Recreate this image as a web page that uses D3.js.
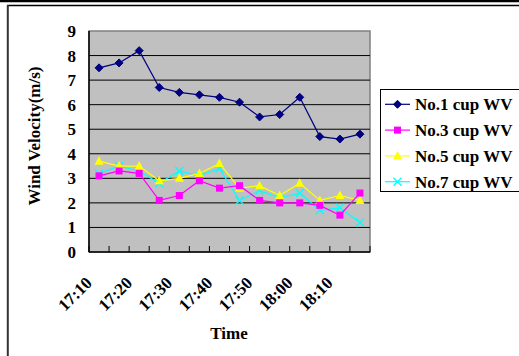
<!DOCTYPE html>
<html>
<head>
<meta charset="utf-8">
<script src="https://cdn.jsdelivr.net/npm/d3@7"></script>
<style>
  html, body { margin: 0; padding: 0; background: #fff; }
  svg { display: block; }
  text { font-family: "Liberation Serif", "Times New Roman", serif; font-weight: bold; fill: #000; }
</style>
</head>
<body>
<svg id="chart" width="519" height="356"></svg>
<script>
// ---- data ----
const categories = ["17:10","17:15","17:20","17:25","17:30","17:35","17:40","17:45","17:50","17:55","18:00","18:05","18:10","18:15"];
const tickLabels = ["17:10","17:20","17:30","17:40","17:50","18:00","18:10"];
const cup1 = [7.5,7.7,8.2,6.7,6.5,6.4,6.3,6.1,5.5,5.6,6.3,4.7,4.6,4.8];
const cup3 = [3.1,3.3,3.2,2.1,2.3,2.9,2.6,2.7,2.1,2.0,2.0,1.9,1.5,2.4];
const cup5 = [3.7,3.5,3.5,2.9,3.0,3.2,3.6,2.6,2.7,2.3,2.8,2.1,2.3,2.1];
const cup7 = [3.2,3.5,3.3,2.8,3.3,3.1,3.4,2.1,2.5,2.2,2.4,1.7,1.8,1.2];
const seriesNames = ["No.1 cup WV","No.3 cup WV","No.5 cup WV","No.7 cup WV"];
const yTicks = [0,1,2,3,4,5,6,7,8,9];

const series = [
  {name: seriesNames[0], values: cup1, color: "#000080", marker: "diamond"},
  {name: seriesNames[1], values: cup3, color: "#FF00FF", marker: "square"},
  {name: seriesNames[2], values: cup5, color: "#FFFF00", marker: "triangle"},
  {name: seriesNames[3], values: cup7, color: "#00FFFF", marker: "cross"}
];

const svg = d3.select("#chart");

// outer frame
svg.append("line").attr("x1",0).attr("x2",519).attr("y1",1).attr("y2",1).attr("stroke","#000").attr("stroke-width",2.5);
svg.append("line").attr("x1",7).attr("x2",519).attr("y1",5.5).attr("y2",5.5).attr("stroke","#000").attr("stroke-width",1.3);
svg.append("line").attr("x1",7.8).attr("x2",7.8).attr("y1",5).attr("y2",356).attr("stroke","#333").attr("stroke-width",2);

const L = 89, R = 370, T = 31, B = 252;
const x = d3.scaleBand().domain(categories).range([L, R]).padding(0);
const y = d3.scaleLinear().domain([0, 9]).range([B, T]);
const cx = c => x(c) + x.bandwidth() / 2;

// plot area
svg.append("rect").attr("x", L).attr("y", T).attr("width", R - L).attr("height", B - T)
  .attr("fill", "#C0C0C0").attr("stroke", "#808080").attr("stroke-width", 1.5);

// gridlines
svg.append("g").selectAll("line").data(yTicks.filter(v => v > 0 && v < 9)).join("line")
  .attr("x1", L).attr("x2", R).attr("y1", d => y(d)).attr("y2", d => y(d))
  .attr("stroke", "#000").attr("stroke-width", 1);

// axes lines
svg.append("line").attr("x1", L).attr("x2", L).attr("y1", T).attr("y2", B).attr("stroke", "#000").attr("stroke-width", 1.5);
svg.append("line").attr("x1", L).attr("x2", R).attr("y1", B).attr("y2", B).attr("stroke", "#000").attr("stroke-width", 1.5);

// x ticks (inside)
const bounds = categories.map(c => x(c)).concat([R]);
svg.append("g").selectAll("line").data(bounds).join("line")
  .attr("x1", d => d).attr("x2", d => d).attr("y1", B).attr("y2", B - 6)
  .attr("stroke", "#000").attr("stroke-width", 1);

// y tick labels
svg.append("g").selectAll("text").data(yTicks).join("text")
  .attr("x", 76).attr("y", d => y(d)).attr("dy", "0.35em")
  .attr("text-anchor", "end").style("font-size", "17px").text(d => d);

// x tick labels
svg.append("g").selectAll("text").data(tickLabels).join("text")
  .attr("transform", d => `translate(${cx(d) - 6},${284}) rotate(-45)`)
  .attr("text-anchor", "end").style("font-size", "17px").text(d => d);

// axis titles
svg.append("text").attr("transform", "translate(40,136) rotate(-90)")
  .attr("text-anchor", "middle").style("font-size", "17px").text("Wind Velocity(m/s)");
svg.append("text").attr("x", 229).attr("y", 339)
  .attr("text-anchor", "middle").style("font-size", "17px").text("Time");

// marker drawer
function drawMarker(g, type, color) {
  if (type === "diamond") {
    g.append("path").attr("d", "M0,-4L4,0L0,4L-4,0Z").attr("fill", color).attr("stroke", color);
  } else if (type === "square") {
    g.append("rect").attr("x", -3.5).attr("y", -3.5).attr("width", 7).attr("height", 7).attr("fill", color);
  } else if (type === "triangle") {
    g.append("path").attr("d", "M0,-5L4.5,3.5L-4.5,3.5Z").attr("fill", color);
  } else {
    g.append("path").attr("d", "M-4,-4L4,4M-4,4L4,-4").attr("stroke", color).attr("stroke-width", 1.3).attr("fill", "none");
  }
}

const line = d3.line().x((d, i) => cx(categories[i])).y(d => y(d));
series.slice().reverse().forEach(s => {
  svg.append("path").datum(s.values).attr("d", line)
    .attr("fill", "none").attr("stroke", s.color).attr("stroke-width", 1.2);
  s.values.forEach((v, i) => {
    const g = svg.append("g").attr("transform", `translate(${cx(categories[i])},${y(v)})`);
    drawMarker(g, s.marker, s.color);
  });
});

// legend
const lg = svg.append("g");
lg.append("rect").attr("x", 380.5).attr("y", 89.5).attr("width", 145).attr("height", 102)
  .attr("fill", "#fff").attr("stroke", "#000").attr("stroke-width", 1);
series.forEach((s, i) => {
  const yy = 104.3 + i * 25.8;
  lg.append("line").attr("x1", 385).attr("x2", 410).attr("y1", yy).attr("y2", yy)
    .attr("stroke", s.color).attr("stroke-width", 1.2);
  const g = lg.append("g").attr("transform", `translate(397.5,${yy})`);
  drawMarker(g, s.marker, s.color);
  lg.append("text").attr("x", 415).attr("y", yy).attr("dy", "0.35em")
    .style("font-size", "17px").text(s.name);
});
</script>
</body>
</html>
